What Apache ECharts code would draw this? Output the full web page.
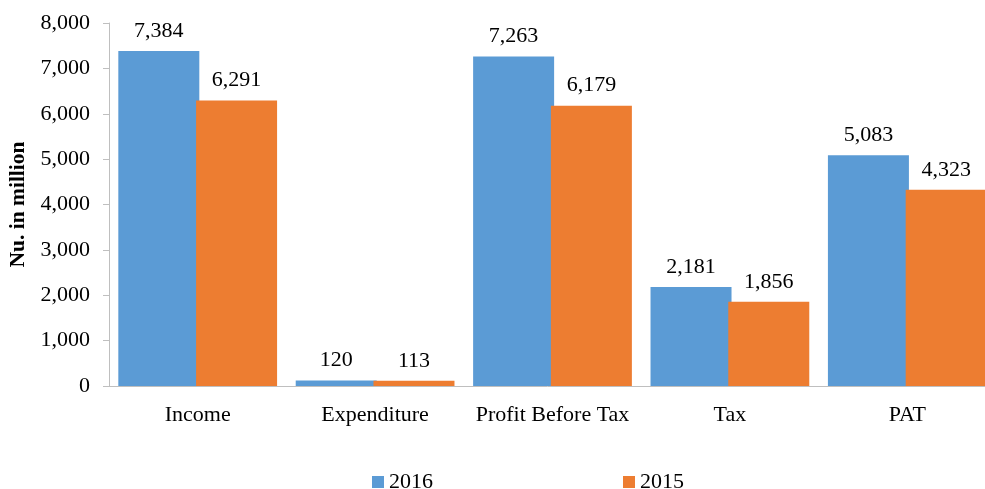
<!DOCTYPE html>
<html><head><meta charset="utf-8">
<script src="https://cdn.jsdelivr.net/npm/echarts@6/dist/echarts.min.js"></script>
<style>html,body{margin:0;padding:0;background:#fff}#c{width:985px;height:489px}</style>
</head><body><div id="c"></div>
<script>
const categories = ['Income', 'Expenditure', 'Profit Before Tax', 'Tax', 'PAT'];
const values2016 = [7384, 120, 7263, 2181, 5083];
const values2015 = [6291, 113, 6179, 1856, 4323];
const yTicks = [0, 1000, 2000, 3000, 4000, 5000, 6000, 7000, 8000];

const font = '"Liberation Serif", "Times New Roman", serif';
const fmt = v => v.toLocaleString('en-US');
const chart = echarts.init(document.getElementById('c'));
const lbl = {show: true, position: 'top', distance: 9, fontFamily: font, fontSize: 22, color: '#000',
  formatter: p => fmt(p.value)};
chart.setOption({
  animation: false,
  textStyle: {fontFamily: font},
  grid: {left: 109, top: 23, right: -11, bottom: 103, containLabel: false, outerBoundsMode: 'none'},
  legend: {
    left: 367, top: 466, itemWidth: 12, itemHeight: 12, itemGap: 190,
    icon: 'rect',
    textStyle: {fontFamily: font, fontSize: 22, color: '#000'},
    data: ['2016', '2015']
  },
  xAxis: {
    type: 'category', data: categories,
    axisLine: {lineStyle: {color: '#bfbfbf', width: 1}},
    axisTick: {show: false},
    axisLabel: {interval: 0, fontFamily: font, fontSize: 22, color: '#000', margin: 18}
  },
  yAxis: {
    type: 'value', min: yTicks[0], max: yTicks[yTicks.length - 1], interval: 1000,
    name: 'Nu. in million', nameLocation: 'middle', nameGap: 78, nameRotate: 90,
    nameTextStyle: {fontFamily: font, fontSize: 21.5, fontWeight: 'bold', color: '#000'},
    axisLine: {show: true, lineStyle: {color: '#bfbfbf', width: 1}},
    axisTick: {show: true, length: 6, lineStyle: {color: '#bfbfbf'}},
    splitLine: {show: false},
    axisLabel: {fontFamily: font, fontSize: 22, color: '#000', margin: 19, formatter: v => fmt(v)}
  },
  series: [
    {name: '2016', type: 'bar', data: values2016, barWidth: 81, barGap: '-4%',
      itemStyle: {color: '#5b9bd5'}, label: lbl},
    {name: '2015', type: 'bar', data: values2015, barWidth: 81,
      itemStyle: {color: '#ed7d31'}, label: lbl}
  ]
});
</script></body></html>
